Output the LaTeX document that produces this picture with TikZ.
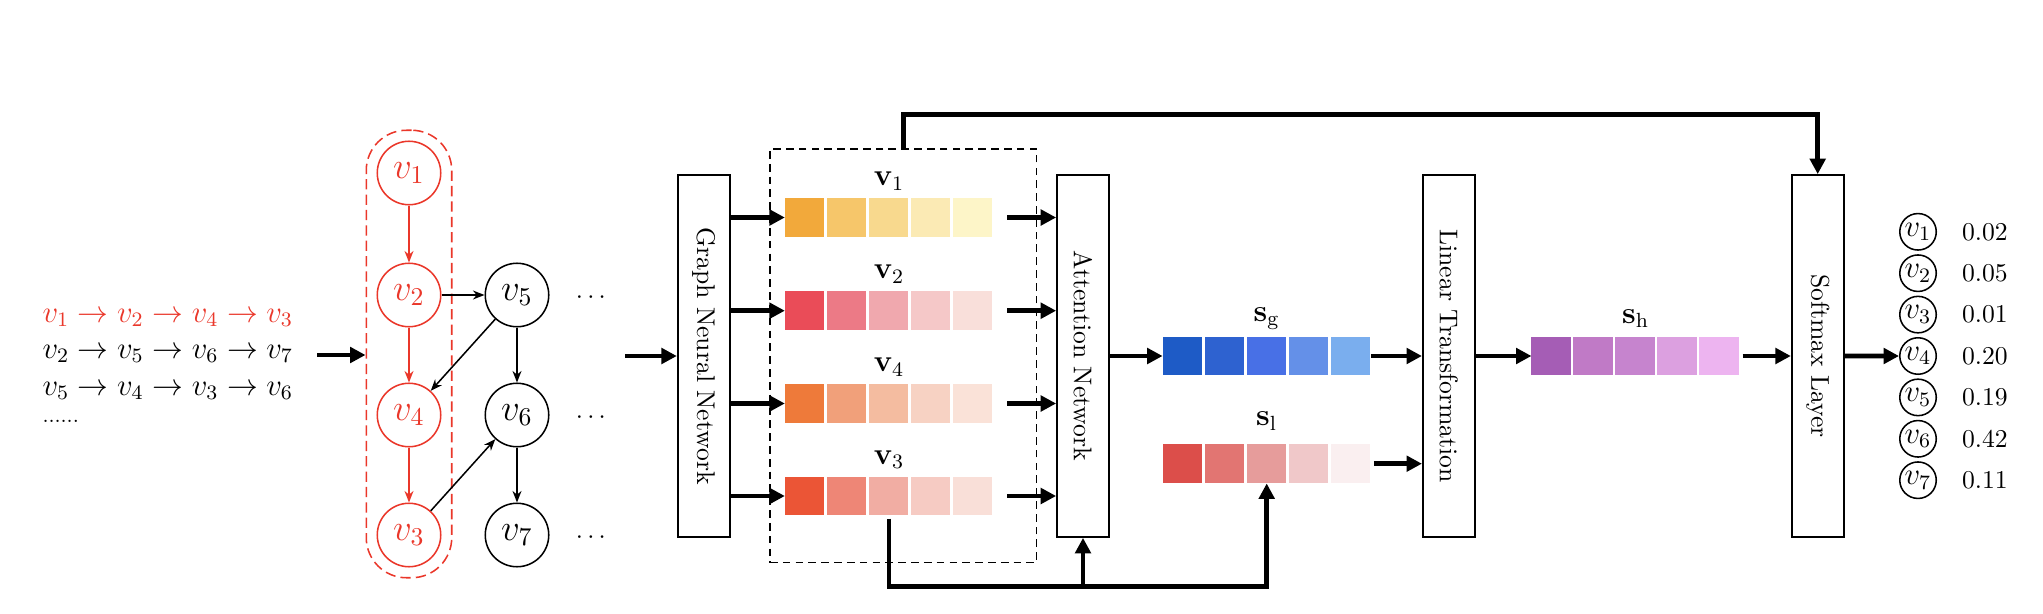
\documentclass[tikz,border=0pt]{standalone}
\usepackage{amsmath}
\usepackage{graphicx}
\usepackage{xcolor}
\usetikzlibrary{arrows.meta, positioning, calc, fit}

\definecolor{gred}{RGB}{234,55,42}
% cell colours of the embedding bars
\definecolor{ylw1}{HTML}{F2A93B}\definecolor{ylw2}{HTML}{F6C66A}\definecolor{ylw3}{HTML}{F8D98E}\definecolor{ylw4}{HTML}{FBEAB4}\definecolor{ylw5}{HTML}{FDF5C8}
\definecolor{pnk1}{HTML}{EA4C58}\definecolor{pnk2}{HTML}{EC7A86}\definecolor{pnk3}{HTML}{F0A8AE}\definecolor{pnk4}{HTML}{F5C8C8}\definecolor{pnk5}{HTML}{F9DFDA}
\definecolor{org1}{HTML}{EE7A3A}\definecolor{org2}{HTML}{F1A07A}\definecolor{org3}{HTML}{F4BCA0}\definecolor{org4}{HTML}{F7D2C3}\definecolor{org5}{HTML}{FAE2D8}
\definecolor{ver1}{HTML}{EB5536}\definecolor{ver2}{HTML}{EE8676}\definecolor{ver3}{HTML}{F1ADA3}\definecolor{ver4}{HTML}{F6CBC3}\definecolor{ver5}{HTML}{F9DFD8}
\definecolor{blu1}{HTML}{1E5BC6}\definecolor{blu2}{HTML}{2E62D0}\definecolor{blu3}{HTML}{4870E6}\definecolor{blu4}{HTML}{6490E8}\definecolor{blu5}{HTML}{7AAEEE}
\definecolor{rdl1}{HTML}{DC4E4A}\definecolor{rdl2}{HTML}{E27572}\definecolor{rdl3}{HTML}{E69C9B}\definecolor{rdl4}{HTML}{F0C8C9}\definecolor{rdl5}{HTML}{FAEFF0}
\definecolor{pur1}{HTML}{A55DB5}\definecolor{pur2}{HTML}{C07AC6}\definecolor{pur3}{HTML}{C684CE}\definecolor{pur4}{HTML}{DCA0E0}\definecolor{pur5}{HTML}{EDB4F0}

% bar of five coloured cells: name, centre, colours
\newcommand{\embbar}[3]{%
  \node[bar] (#1) at (#2) {};
  \foreach \col [count=\k] in {#3} {
    \node[cell, fill=\col] at ($(#1.west)+({42*\k-22.35},0)$) {};
  }
}

\begin{document}
\begin{tikzpicture}[x=0.0137cm, y=-0.0137cm,
  vtx/.style={circle, draw, line width=0.6pt, minimum size=0.87cm, inner sep=0pt, font=\Large},
  hit/.style={vtx, draw=gred, text=gred},
  outv/.style={circle, draw, line width=0.6pt, minimum size=0.5cm, inner sep=0pt, font=\large},
  walk/.style={anchor=base west, inner sep=0pt, font=\large},
  layer/.style={rectangle, draw, line width=0.7pt, minimum width=0.712cm, minimum height=4.96cm, inner sep=0pt},
  bar/.style={rectangle, minimum width=2.84cm, minimum height=0.527cm, inner sep=0pt},
  cell/.style={rectangle, minimum width=0.538cm, minimum height=0.527cm, inner sep=0pt},
  lbl/.style={anchor=base, inner sep=0pt, font=\large},
  conn/.style={-{Triangle[length=6pt, width=6pt]}, line width=1.8pt},
  thinarr/.style={-{Stealth[length=4.5pt, width=3.5pt]}, line width=0.6pt}
]
  \useasboundingbox (0,0) rectangle (2043,614);

  % random walks
  \node[walk, text=gred] (w1) at (42,322) {$v_1 \rightarrow v_2 \rightarrow v_4 \rightarrow v_3$};
  \node[walk] (w2) at (42,358) {$v_2 \rightarrow v_5 \rightarrow v_6 \rightarrow v_7$};
  \node[walk] (w3) at (42,395) {$v_5 \rightarrow v_4 \rightarrow v_3 \rightarrow v_6$};
  \node[walk, font=\footnotesize] (w4) at (42,422) {......};

  % graph
  \node[hit] (v1) at (409,173) {$v_1$};
  \node[hit] (v2) at (409,295) {$v_2$};
  \node[hit] (v4) at (409,415) {$v_4$};
  \node[hit] (v3) at (409,535) {$v_3$};
  \node[vtx] (v5) at (517,295) {$v_5$};
  \node[vtx] (v6) at (517,415) {$v_6$};
  \node[vtx] (v7) at (517,535) {$v_7$};
  \foreach \n in {5,6,7} {
    \node (d\n) at ($(v\n)+(76,3)$) {$\cdots$};
  }
  \node[draw=gred, dash pattern=on 4pt off 2pt, line width=0.6pt, rounded corners=0.55cm,
        inner sep=0.14cm, fit=(v1)(v3)] (grp) {};

  \draw[thinarr, gred] (v1) -- (v2);
  \draw[thinarr, gred] (v2) -- (v4);
  \draw[thinarr, gred] (v4) -- (v3);
  \draw[thinarr] (v2) -- (v5);
  \draw[thinarr] (v5) -- (v4);
  \draw[thinarr] (v5) -- (v6);
  \draw[thinarr] (v3) -- (v6);
  \draw[thinarr] (v6) -- (v7);

  % layers
  \node[layer] (gnn) at (703.7,356) {\rotatebox{-90}{Graph Neural Network}};
  \node[layer] (att) at (1083,356) {\rotatebox{-90}{Attention Network}};
  \node[layer] (lin) at (1448.8,356) {\rotatebox{-90}{Linear Transformation}};
  \node[layer] (soft) at (1817.7,356) {\rotatebox{-90}{Softmax Layer}};

  % node embeddings
  \node[draw, dash pattern=on 3pt off 2pt, line width=0.6pt, minimum width=3.654cm,
        minimum height=5.668cm, inner sep=0pt] (emb) at (903.3,355.8) {};
  \embbar{b1}{889,217.5}{ylw1,ylw2,ylw3,ylw4,ylw5}
  \embbar{b2}{889,310.7}{pnk1,pnk2,pnk3,pnk4,pnk5}
  \embbar{b4}{889,403.5}{org1,org2,org3,org4,org5}
  \embbar{b3}{889,496}{ver1,ver2,ver3,ver4,ver5}
  \node[lbl] (l1) at ($(b1.north)+(0,-12)$) {$\mathbf{v}_1$};
  \node[lbl] (l2) at ($(b2.north)+(0,-12)$) {$\mathbf{v}_2$};
  \node[lbl] (l4) at ($(b4.north)+(0,-12)$) {$\mathbf{v}_4$};
  \node[lbl] (l3) at ($(b3.north)+(0,-12)$) {$\mathbf{v}_3$};

  % session embeddings
  \embbar{sg}{1266.7,356}{blu1,blu2,blu3,blu4,blu5}
  \embbar{sl}{1266.7,463.7}{rdl1,rdl2,rdl3,rdl4,rdl5}
  \embbar{sh}{1635.6,356}{pur1,pur2,pur3,pur4,pur5}
  \node[lbl] (lg) at ($(sg.north)+(0,-15)$) {$\mathbf{s}_\mathrm{g}$};
  \node[lbl] (ll) at ($(sl.north)+(0,-18)$) {$\mathbf{s}_\mathrm{l}$};
  \node[lbl] (lh) at ($(sh.north)+(0,-13)$) {$\mathbf{s}_\mathrm{h}$};

  % scores
  \foreach \i/\p [count=\k] in {1/0.02, 2/0.05, 3/0.01, 4/0.20, 5/0.19, 6/0.42, 7/0.11} {
    \node[outv] (o\i) at (1918, {231.8+41.4*(\k-1)}) {$v_\i$};
    \node[right=0.22cm of o\i] (p\i) {\p};
  }

  % data flow
  \coordinate (win) at (317,355);
  \draw[conn] (win) -- (grp.west |- win);
  \coordinate (gin) at (625,356);
  \draw[conn] (gin) -- (gnn.west);
  \foreach \b in {b1,b2,b4,b3} {
    \draw[conn] (gnn.east |- \b.west) -- (\b.west);
    \draw[conn, shorten <=0.19cm] (\b.east) -- (\b.east -| att.west);
  }
  \draw[conn] (emb.north) -- ++(0,-34) -| (soft.north);
  \coordinate (low) at ($(b3.south)+(0,71)$);
  \draw[conn, shorten <=0.04cm] (b3.south) -- (low) -| (sl.south);
  \draw[conn] (low -| att.south) -- (att.south);
  \draw[conn] (att.east) -- (sg.west);
  \draw[conn] (sg.east) -- (lin.west);
  \draw[conn, shorten <=0.04cm] (sl.east) -- (sl.east -| lin.west);
  \draw[conn] (lin.east) -- (sh.west);
  \draw[conn, shorten <=0.04cm] (sh.east) -- (soft.west);
  \draw[conn] (soft.east) -- (o4.west);
\end{tikzpicture}
\end{document}
